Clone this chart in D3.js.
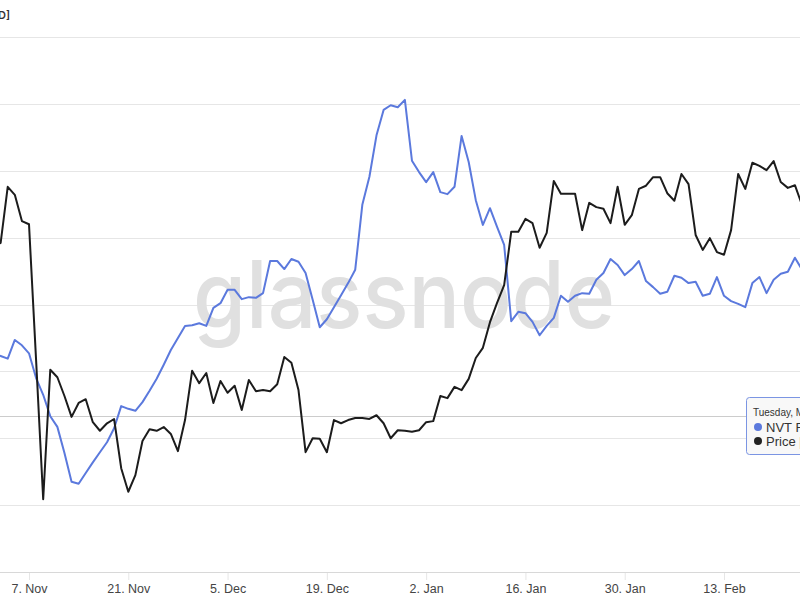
<!DOCTYPE html>
<html>
<head>
<meta charset="utf-8">
<script src="https://cdn.jsdelivr.net/npm/d3@7/dist/d3.min.js"></script>
<style>
  html, body { margin: 0; padding: 0; background: #ffffff; }
  svg { display: block; }
</style>
</head>
<body>
<svg id="chart" width="800" height="600"></svg>
<script>
// ---------- DATA ----------
const startDate = "2022-11-02";
const endDate = "2023-02-24";
const tickDates = ["2022-11-07","2022-11-21","2022-12-05","2022-12-19","2023-01-02","2023-01-16","2023-01-30","2023-02-13"];

// Price [USD] (daily)
const priceValues = [
  1511,1515,1620,1605,1556,1550,1296,1036,1278,1264,1229,1190,1216,1223,1180,1164,1178,1186,1094,1050,
  1081,1145,1167,1164,1171,1158,1126,1184,1276,1253,1272,1216,1257,1235,1248,1203,1259,1238,1240,1238,
  1251,1302,1291,1240,1124,1150,1149,1124,1184,1178,1184,1188,1188,1186,1193,1178,1150,1165,1164,1162,
  1165,1180,1182,1229,1225,1246,1240,1261,1300,1319,1367,1403,1436,1536,1536,1560,1552,1506,1534,1631,
  1607,1607,1607,1539,1590,1582,1579,1552,1620,1549,1567,1616,1622,1638,1638,1608,1594,1644,1625,1530,
  1502,1524,1498,1493,1539,1644,1616,1665,1659,1651,1668,1629,1618,1623,1586
];

// NVT Ratio (daily)
const nvtValues = [
  32.6,32.3,31.9,34.7,33.9,32.7,29.0,26.5,23.3,21.7,17.8,13.5,13.2,14.8,16.4,17.9,19.4,21.5,24.8,24.4,
  24.1,25.4,27.1,28.9,31.0,33.2,35.0,36.8,36.9,37.2,36.8,39.5,40.2,42.2,42.2,40.8,41.1,41.0,41.7,46.5,
  46.5,45.3,46.8,46.4,44.7,40.7,36.6,37.8,39.6,41.4,43.2,45.2,54.9,59.1,65.3,69.1,69.8,69.5,70.6,61.5,
  59.8,58.3,59.8,56.8,56.5,57.6,65.2,61.3,55.6,51.9,54.4,51.6,48.9,37.5,38.9,38.7,37.4,35.4,36.8,38.0,
  41.3,40.4,41.3,41.7,41.6,43.7,44.7,46.8,45.9,44.4,45.3,46.5,43.5,42.6,41.6,41.9,44.3,44.0,43.2,43.4,
  41.3,41.6,44.1,41.3,40.5,40.1,39.6,43.2,44.1,41.7,43.7,44.6,44.9,47.0,45.2
];

const priceDomain = [900, 1900];
const nvtDomain = [0, 80];
const gridCount = 8;

const seriesNames = ["NVT Ratio", "Price [USD]"];
const tooltipTitle = "Tuesday, Mar 7, 2023";
const watermark = "glassnode";
const axisTitle = "Price [USD]";

// ---------- CHART ----------
const svg = d3.select("#chart");
const parse = d3.utcParse("%Y-%m-%d");
const dates = d3.utcDays(parse(startDate), d3.utcDay.offset(parse(endDate), 1));

const x = d3.scaleUtc()
  .domain([parse(tickDates[0]), parse(tickDates[tickDates.length - 1])])
  .range([29, 724]);

const plotTop = 37, plotBottom = 572;
const yPrice = d3.scaleLinear().domain(priceDomain).range([plotBottom, plotTop]);
const yNvt = d3.scaleLinear().domain(nvtDomain).range([plotBottom, plotTop]);

// gridlines
const gridVals = d3.range(gridCount + 1).map(i => priceDomain[0] + i * (priceDomain[1] - priceDomain[0]) / gridCount);
svg.append("g")
  .selectAll("line")
  .data(gridVals.slice(1))
  .join("line")
  .attr("x1", 0).attr("x2", 800)
  .attr("y1", d => Math.round(yPrice(d)) + 0.5)
  .attr("y2", d => Math.round(yPrice(d)) + 0.5)
  .attr("stroke", "#e6e6e6")
  .attr("stroke-width", 1);

// axis title (cropped)
svg.append("text")
  .attr("x", 10).attr("y", 19)
  .attr("text-anchor", "end")
  .attr("font-family", "Inter, 'Noto Sans', sans-serif")
  .attr("font-size", 11)
  .attr("font-weight", 600)
  .attr("fill", "#333")
  .text(axisTitle);

// watermark
svg.append("text")
  .attr("x", 193).attr("y", 328)
  .attr("font-family", "Inter, 'Open Sans', sans-serif")
  .attr("font-size", 93)
  .attr("font-weight", 500)
  .attr("textLength", 422)
  .attr("lengthAdjust", "spacingAndGlyphs")
  .attr("fill", "#e0e0e0")
  .text(watermark);

// crosshair line
svg.append("line")
  .attr("x1", 0).attr("x2", 800)
  .attr("y1", 416.5).attr("y2", 416.5)
  .attr("stroke", "#cccccc").attr("stroke-width", 1);

// x axis
const xAxis = d3.axisBottom(x)
  .tickValues(tickDates.map(parse))
  .tickFormat(d3.utcFormat("%-d. %b"))
  .tickSize(8)
  .tickPadding(4);
const gx = svg.append("g")
  .attr("transform", `translate(0,${plotBottom})`)
  .call(xAxis);
gx.select(".domain").remove();
gx.append("line").attr("x1", 0).attr("x2", 800).attr("y1", 0.5).attr("y2", 0.5)
  .attr("stroke", "#d8d8d8");
gx.selectAll(".tick line").attr("stroke", "#e6e6e6");
gx.selectAll(".tick text")
  .attr("font-family", "'Liberation Sans', Arial, sans-serif")
  .attr("font-size", 12.5)
  .attr("fill", "#444");

// lines
const nvtLine = d3.line().x((d, i) => x(dates[i])).y(d => yNvt(d));
const priceLine = d3.line().x((d, i) => x(dates[i])).y(d => yPrice(d));

svg.append("path").datum(nvtValues)
  .attr("d", nvtLine)
  .attr("fill", "none")
  .attr("stroke", "#5b79dd")
  .attr("stroke-width", 2)
  .attr("stroke-linejoin", "round");

svg.append("path").datum(priceValues)
  .attr("d", priceLine)
  .attr("fill", "none")
  .attr("stroke", "#1c1c1c")
  .attr("stroke-width", 2)
  .attr("stroke-linejoin", "round");

// tooltip (cropped at right)
const tip = svg.append("g").attr("transform", "translate(746,397)");
tip.append("rect")
  .attr("x", 0.5).attr("y", 0.5).attr("width", 80).attr("height", 57).attr("rx", 3)
  .attr("fill", "#f8f8f8").attr("fill-opacity", 0.95)
  .attr("stroke", "#7b95e3").attr("stroke-width", 1);
tip.append("text")
  .attr("x", 7).attr("y", 19)
  .attr("font-family", "'Liberation Sans', Arial, sans-serif")
  .attr("font-size", 10).attr("fill", "#333")
  .text(tooltipTitle);
const tipColors = ["#5b79dd", "#222222"];
seriesNames.forEach((name, i) => {
  tip.append("circle")
    .attr("cx", 12).attr("cy", 30 + i * 14).attr("r", 4)
    .attr("fill", tipColors[i]);
  tip.append("text")
    .attr("x", 20).attr("y", 34.5 + i * 14)
    .attr("font-family", "'Liberation Sans', Arial, sans-serif")
    .attr("font-size", 13).attr("fill", "#333")
    .text(name);
});
</script>
</body>
</html>
